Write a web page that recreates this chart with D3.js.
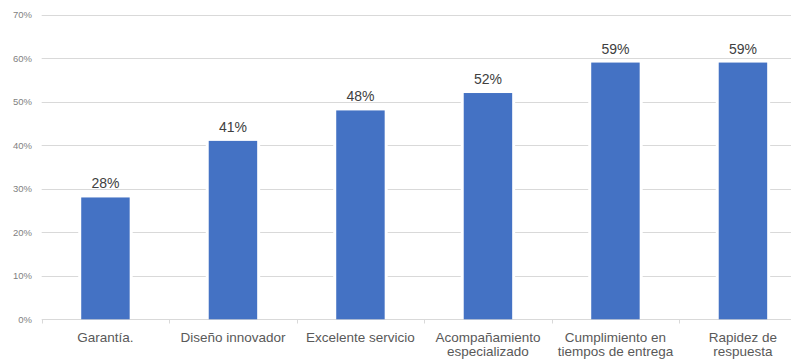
<!DOCTYPE html>
<html>
<head>
<meta charset="utf-8">
<script src="https://cdn.jsdelivr.net/npm/d3@7"></script>
<style>
  html, body { margin: 0; padding: 0; background: #fff; }
  svg { display: block; font-family: "Liberation Sans", Arial, Helvetica, sans-serif; }
</style>
</head>
<body>
<svg id="chart" width="791" height="360"></svg>
<script>
// Categories (each entry is an array of label lines)
const categories = [
  ["Garantía."],
  ["Diseño innovador"],
  ["Excelente servicio"],
  ["Acompañamiento", "especializado"],
  ["Cumplimiento en", "tiempos de entrega"],
  ["Rapidez de", "respuesta"]
];
// Share of respondents per attribute (%)
const values = [28, 41, 48, 52, 59, 59];
// Y axis ticks (%)
const yTicks = [0, 10, 20, 30, 40, 50, 60, 70];

const svg = d3.select("#chart");
const plotLeft = 41.7, plotTop = 14.7, plotBottom = 319.3;
const band = 127.5;

const x = d3.scaleBand()
  .domain(d3.range(categories.length))
  .range([plotLeft, plotLeft + band * categories.length])
  .paddingInner(0.62)
  .paddingOuter(0.31);

const y = d3.scaleLinear().domain([0, 70]).range([plotBottom, plotTop]);

// Horizontal gridlines
svg.append("g").selectAll("line")
  .data(yTicks.filter(d => d > 0))
  .join("line")
  .attr("x1", plotLeft).attr("x2", 791)
  .attr("y1", d => Math.round(y(d)) + 0.5).attr("y2", d => Math.round(y(d)) + 0.5)
  .attr("stroke", "#d9d9d9").attr("stroke-width", 1);

// Y tick labels
svg.append("g").selectAll("text")
  .data(yTicks)
  .join("text")
  .attr("x", 32).attr("y", d => y(d) + 3.3)
  .attr("text-anchor", "end")
  .attr("font-size", "9.5px")
  .attr("fill", "#7f7f7f")
  .text(d => d + "%");

// Baseline with category separator ticks
const base = Math.round(y(0)) + 0.5;
svg.append("line")
  .attr("x1", plotLeft).attr("x2", 791)
  .attr("y1", base).attr("y2", base)
  .attr("stroke", "#d9d9d9").attr("stroke-width", 1);
svg.append("g").selectAll("line")
  .data(d3.range(categories.length + 1))
  .join("line")
  .attr("x1", i => Math.round(plotLeft + band * i) + 0.5)
  .attr("x2", i => Math.round(plotLeft + band * i) + 0.5)
  .attr("y1", base).attr("y2", base + 4)
  .attr("stroke", "#d9d9d9");

// White halo behind bars (gridlines stop short of each bar)
svg.append("g").selectAll("rect")
  .data(values)
  .join("rect")
  .attr("x", (d, i) => x(i) - 3)
  .attr("y", d => y(d) - 1)
  .attr("width", x.bandwidth() + 6)
  .attr("height", d => y(0) - y(d) + 0.5)
  .attr("fill", "#fff");

// Bars
svg.append("g").selectAll("rect")
  .data(values)
  .join("rect")
  .attr("x", (d, i) => x(i))
  .attr("y", d => y(d))
  .attr("width", x.bandwidth())
  .attr("height", d => y(0) - y(d))
  .attr("fill", "#4472c4");

// Value labels
svg.append("g").selectAll("text")
  .data(values)
  .join("text")
  .attr("x", (d, i) => x(i) + x.bandwidth() / 2)
  .attr("y", d => y(d) - 9)
  .attr("text-anchor", "middle")
  .attr("font-size", "14px")
  .attr("fill", "#404040")
  .text(d => d + "%");

// Category labels
const catG = svg.append("g").selectAll("text")
  .data(categories)
  .join("text")
  .attr("x", (d, i) => x(i) + x.bandwidth() / 2)
  .attr("y", 342)
  .attr("text-anchor", "middle")
  .attr("font-size", "13.5px")
  .attr("fill", "#595959");
catG.selectAll("tspan")
  .data(d => d)
  .join("tspan")
  .attr("x", function () { return d3.select(this.parentNode).attr("x"); })
  .attr("dy", (d, i) => i === 0 ? 0 : 13.5)
  .text(d => d);
</script>
</body>
</html>
